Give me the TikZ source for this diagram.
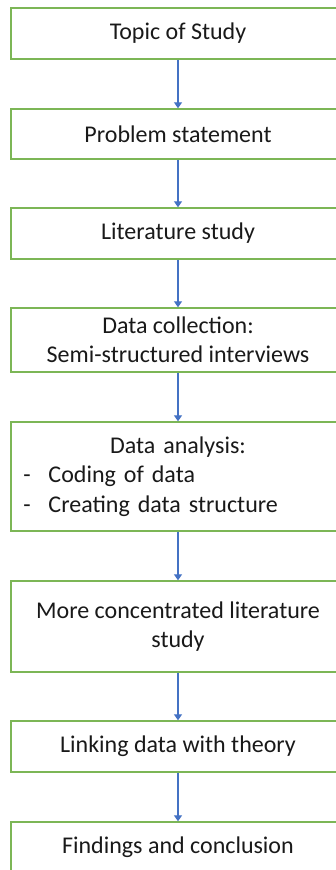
\documentclass[tikz,border=0pt]{standalone}
\usepackage{fontspec}
\setmainfont{Carlito}
\usetikzlibrary{arrows.meta}
\definecolor{boxgreen}{HTML}{7CB656}
\definecolor{arrowblue}{HTML}{4472C4}
\begin{document}
\begin{tikzpicture}[x=1pt, y=-1pt,
    stage/.style={draw=boxgreen, line width=1.4pt, minimum width=334pt, inner sep=0pt,
      align=center, text=black!90, font=\fontsize{24}{29.5}\selectfont},
    flow/.style={draw=arrowblue, line width=1.2pt, -{Triangle[width=8pt,length=6pt]}}]
  \useasboundingbox (0,0) rectangle (336,870);
  \clip (0,0) rectangle (336,870);
  \node[stage, minimum height=51pt] (A) at (178,33.5) {Topic of Study};
  \node[stage, minimum height=50pt] (B) at (178,134) {Problem statement};
  \node[stage, minimum height=51pt] (C) at (178,233.5) {Literature study};
  \node[stage, minimum height=64pt] (D) at (178,340) {Data collection:\\Semi-structured interviews};
  \node[stage, minimum height=109pt, text width=334pt, align=left] (E) at (178,476.5)
    {\centering Data analysis:\par\raggedright
     \hspace*{12.5pt}\makebox[25pt][l]{-}Coding of data\par
     \hspace*{12.5pt}\makebox[25pt][l]{-}Creating data structure};
  \node[stage, minimum height=91pt] (F) at (178,626.5) {More concentrated literature\\study};
  \node[stage, minimum height=51pt] (G) at (178,746.5) {Linking data with theory};
  \node[stage, minimum height=51pt] (H) at (178,847.5) {Findings and conclusion};
  \foreach \a/\b in {A/B,B/C,C/D,D/E,E/F,F/G,G/H}
    \draw[flow] (\a) -- (\b);
\end{tikzpicture}
\end{document}
